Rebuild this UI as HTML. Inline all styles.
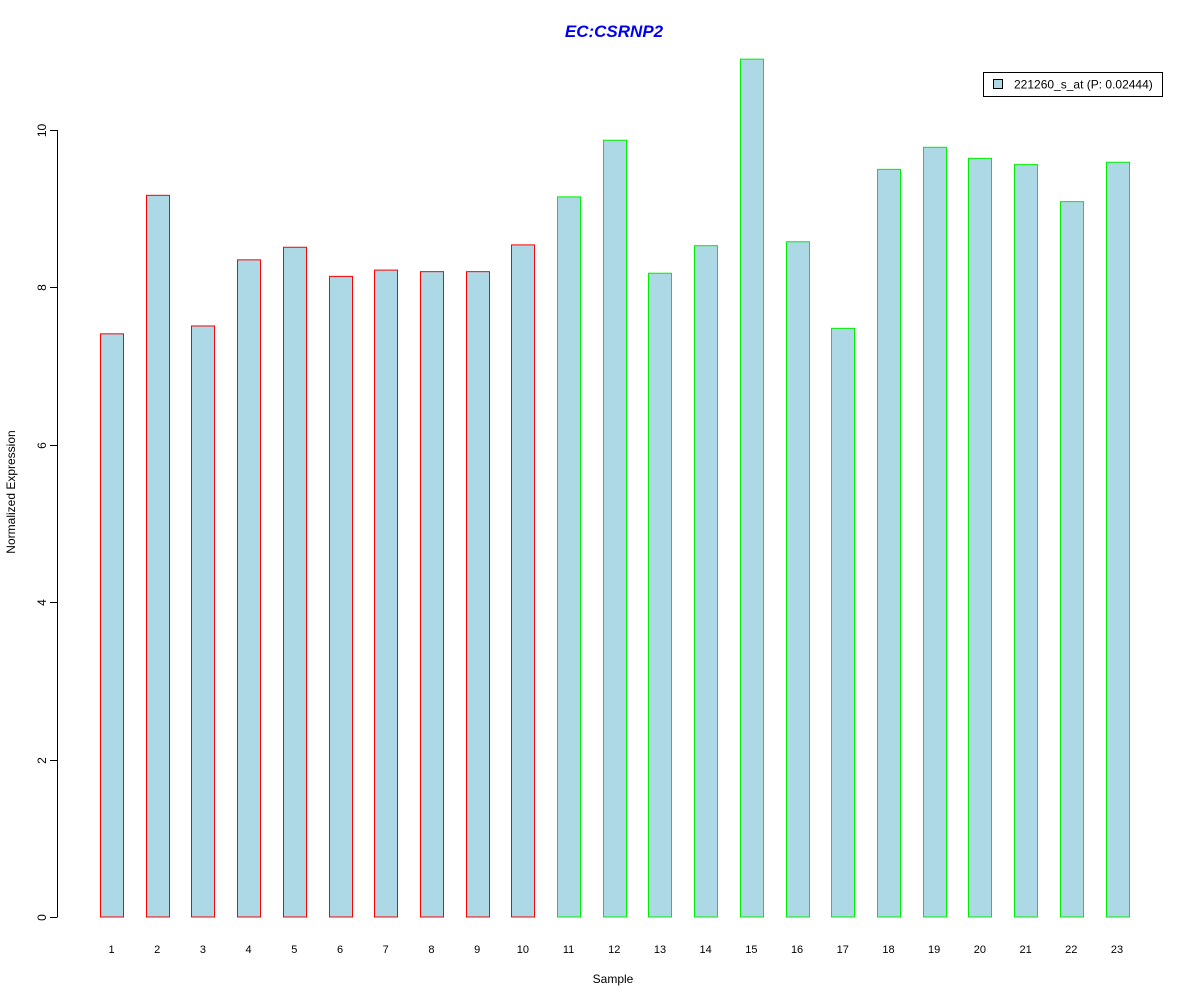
<!DOCTYPE html>
<html><head><meta charset="utf-8"><style>
html,body{margin:0;padding:0;background:#fff;}
svg{display:block;font-family:"Liberation Sans",Arial,sans-serif;}
</style></head><body>
<svg id="chart" width="1200" height="1000" viewBox="0 0 1200 1000">
<rect width="1200" height="1000" fill="#fff"/>
<text x="614" y="37" text-anchor="middle" font-size="17" font-weight="bold" font-style="italic" fill="#0000ee">EC:CSRNP2</text>
<text transform="translate(15,492) rotate(-90)" text-anchor="middle" font-size="12" fill="#000">Normalized Expression</text>
<text x="613" y="983" text-anchor="middle" font-size="12" fill="#000">Sample</text>
<g id="yaxis"></g>
<g id="bars"></g>
<g id="xlabels"></g>
<g>
<rect x="983.5" y="72.5" width="179" height="24" fill="#fff" stroke="#000"/>
<rect x="993.5" y="79.5" width="9" height="9" fill="#add8e6" stroke="#000"/>
<text x="1014" y="88.5" font-size="12" fill="#000">221260_s_at (P: 0.02444)</text>
</g>
</svg>
<script>
const categories = ["1","2","3","4","5","6","7","8","9","10","11","12","13","14","15","16","17","18","19","20","21","22","23"];
const values = [7.41,9.17,7.51,8.35,8.51,8.14,8.22,8.20,8.20,8.54,9.15,9.87,8.18,8.53,10.90,8.58,7.48,9.50,9.78,9.64,9.56,9.09,9.59];
const groups = ["a","a","a","a","a","a","a","a","a","a","b","b","b","b","b","b","b","b","b","b","b","b","b"];
const yTicks = [0,2,4,6,8,10];

const NS="http://www.w3.org/2000/svg";
const y0=917, yScale=(917-130)/10;
const yPos=v=>y0-v*yScale;
const xPos=i=>111.5+i*(1117-111.5)/22;
const barW=23;
const strokes={a:"#ff0000",b:"#00ee00"};

const yaxis=document.getElementById("yaxis");
const axLine=document.createElementNS(NS,"line");
axLine.setAttribute("x1",57.5);axLine.setAttribute("x2",57.5);
axLine.setAttribute("y1",yPos(yTicks[0]));axLine.setAttribute("y2",yPos(yTicks[yTicks.length-1]));
axLine.setAttribute("stroke","#000");


yaxis.appendChild(axLine);
yTicks.forEach(t=>{
  const y=Math.round(yPos(t))+0.5;
  const tk=document.createElementNS(NS,"line");
  tk.setAttribute("x1",50);tk.setAttribute("x2",57.5);tk.setAttribute("y1",y);tk.setAttribute("y2",y);
  tk.setAttribute("stroke","#000");
  
  
  yaxis.appendChild(tk);
  const tx=document.createElementNS(NS,"text");
  tx.setAttribute("transform","translate(46,"+y+") rotate(-90)");
  tx.setAttribute("text-anchor","middle");tx.setAttribute("font-size","12");
  tx.textContent=t;
  
  
  yaxis.appendChild(tx);
});

const bars=document.getElementById("bars"), xl=document.getElementById("xlabels");
values.forEach((v,i)=>{
  const cx=xPos(i);
  const r=document.createElementNS(NS,"rect");
  const top=yPos(v);
  r.setAttribute("x",Math.round(cx-barW/2)+0.5);
  r.setAttribute("y",top);
  r.setAttribute("width",barW);
  r.setAttribute("height",y0-top);
  r.setAttribute("fill","#add8e6");
  r.setAttribute("stroke",strokes[groups[i]]);
  
  
  bars.appendChild(r);
  const t=document.createElementNS(NS,"text");
  t.setAttribute("x",cx);t.setAttribute("y",953);
  t.setAttribute("text-anchor","middle");t.setAttribute("font-size","11");
  t.textContent=categories[i];
  
  
  xl.appendChild(t);
});
</script>
</body></html>
